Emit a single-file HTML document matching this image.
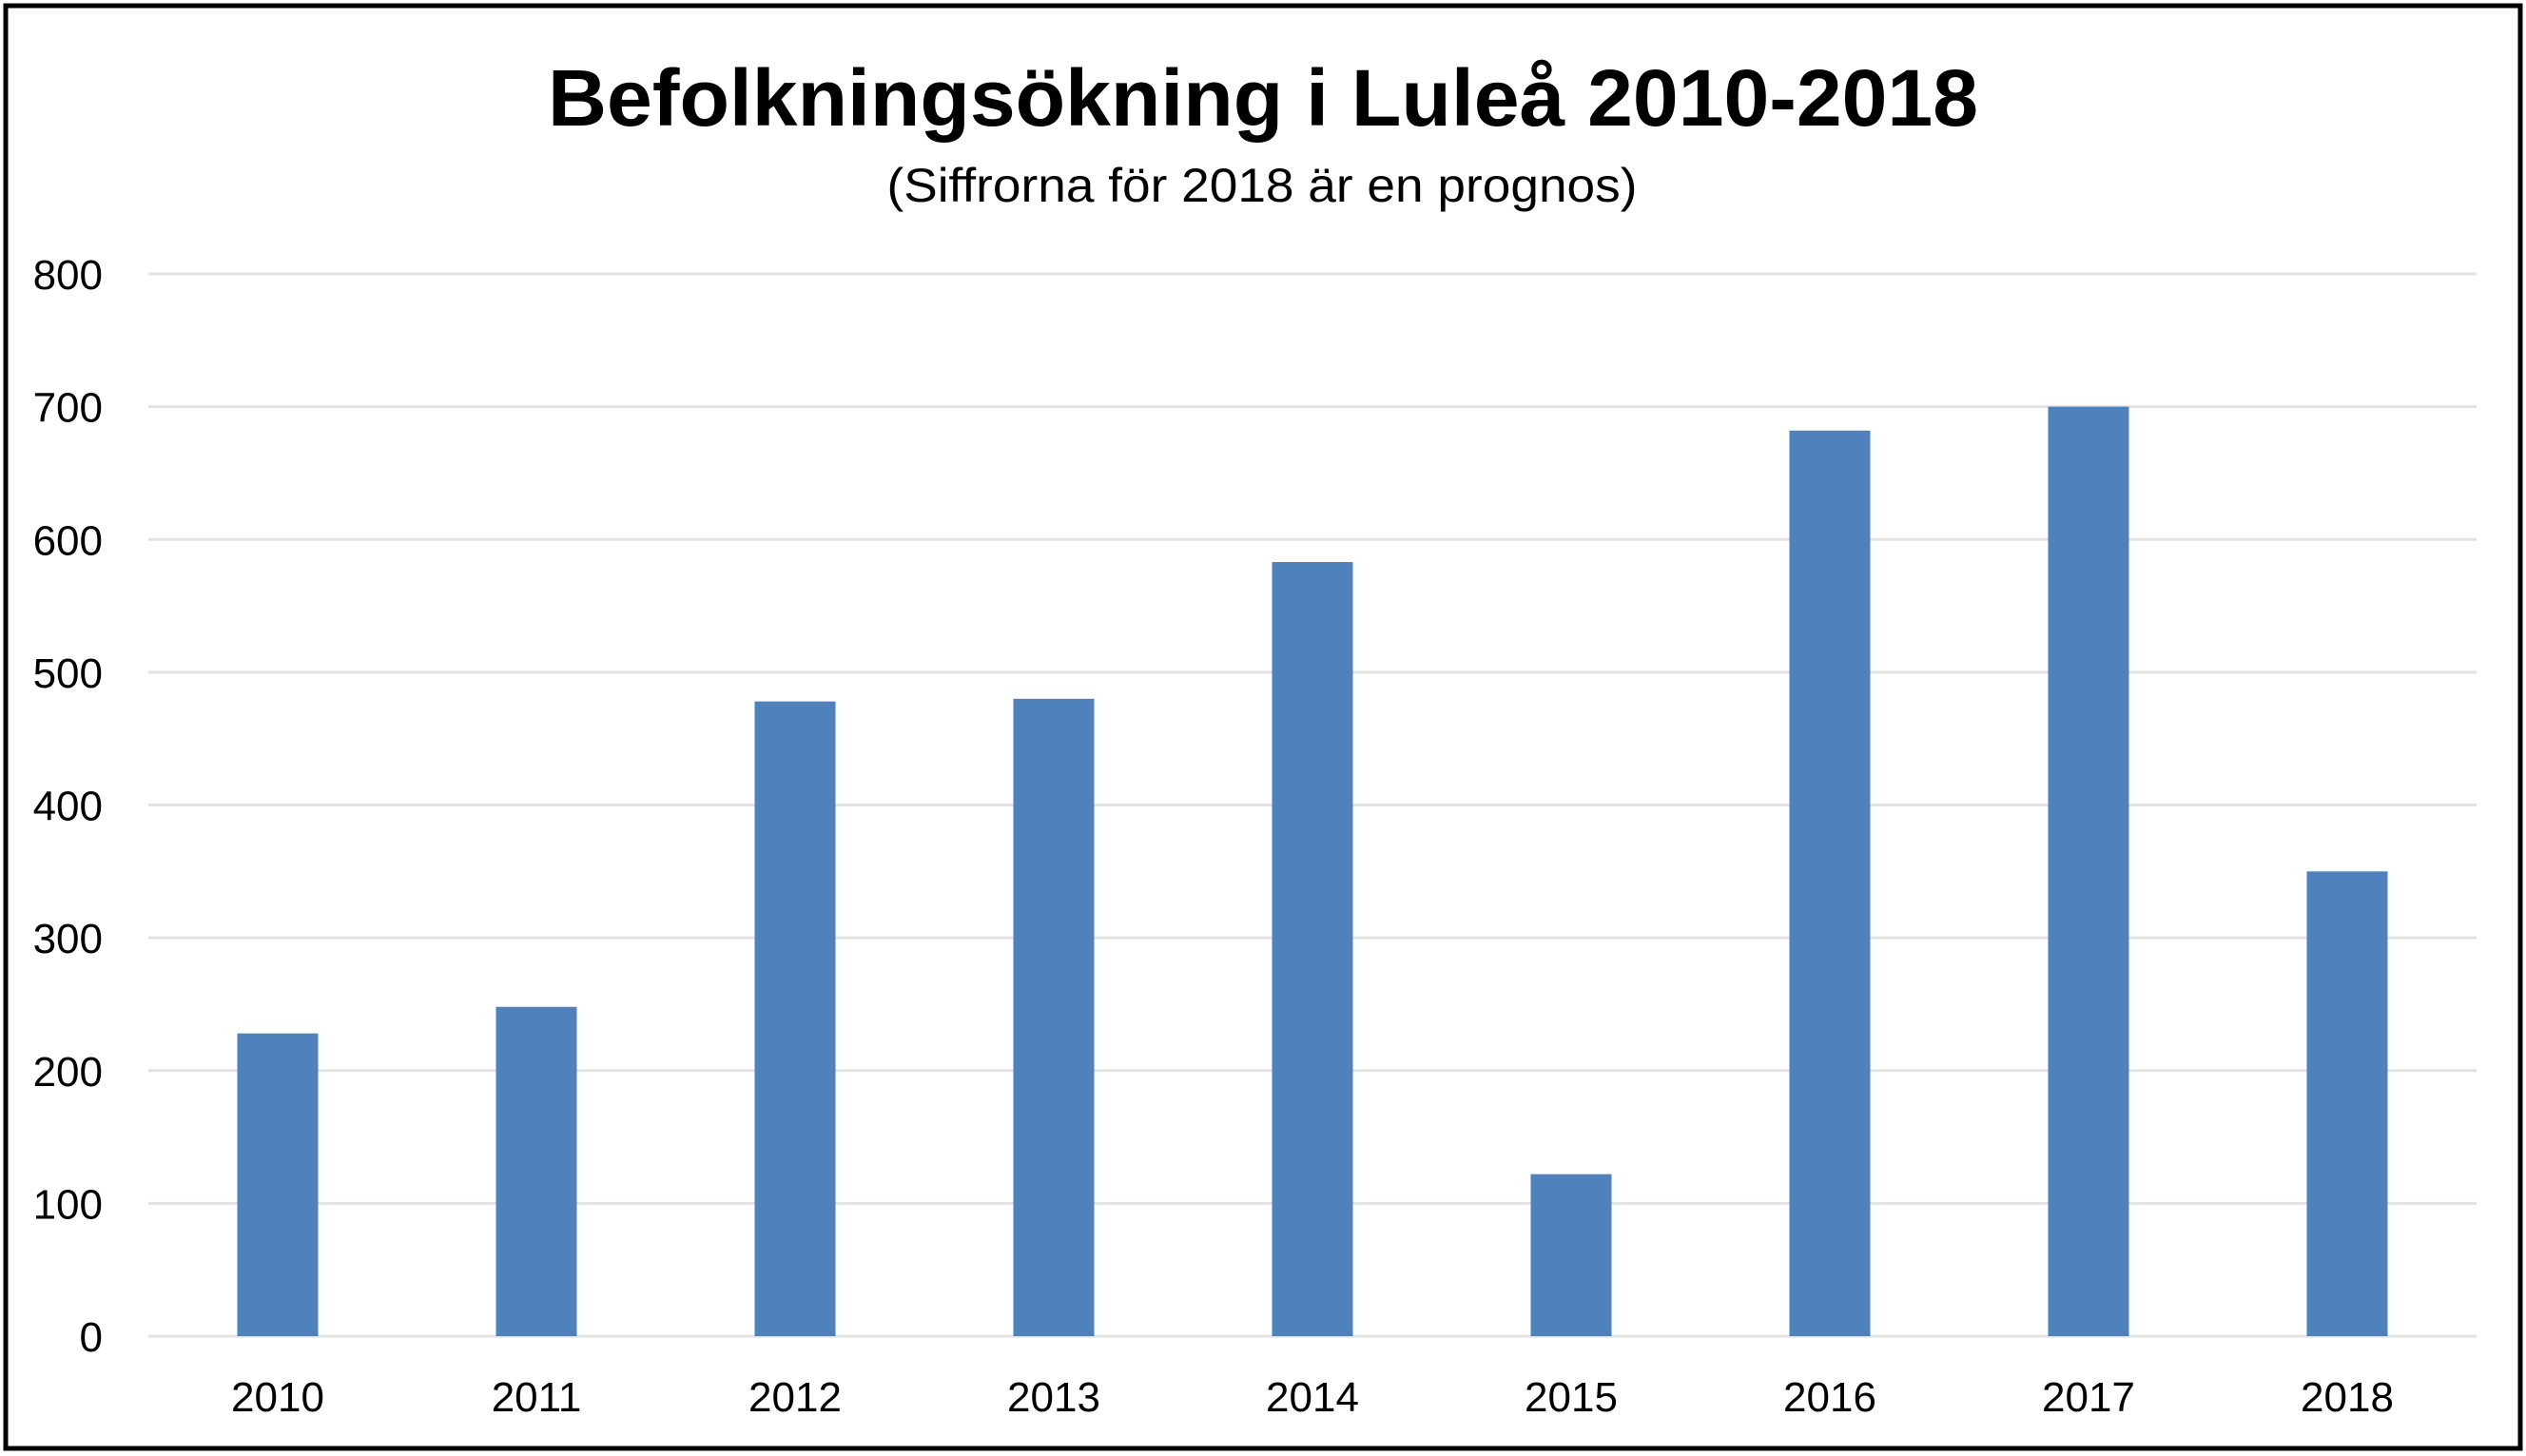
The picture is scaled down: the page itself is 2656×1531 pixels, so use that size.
<!DOCTYPE html>
<html><head><meta charset="utf-8"><style>
html,body{margin:0;padding:0;background:#fff;}
svg{display:block;font-family:"Liberation Sans",Carlito,sans-serif;}
</style></head><body>
<svg id="chart" width="2656" height="1531" viewBox="0 0 2656 1531">
<rect x="6" y="6" width="2644" height="1517" fill="#fff" stroke="#000" stroke-width="5"/>
<text x="1328" y="132" text-anchor="middle" font-size="84" font-weight="bold" textLength="1504" lengthAdjust="spacingAndGlyphs">Befolkningsökning i Luleå 2010-2018</text>
<text x="1327" y="212" text-anchor="middle" font-size="50" textLength="789" lengthAdjust="spacingAndGlyphs">(Siffrorna för 2018 är en prognos)</text>
<g id="grid"></g>
<g id="yaxis"></g>
<g id="bars"></g>
<g id="xaxis"></g>
</svg>
<script>
const categories = ["2010","2011","2012","2013","2014","2015","2016","2017","2018"];
const values = [228, 248, 478, 480, 583, 122, 682, 700, 350];
const yTicks = [0,100,200,300,400,500,600,700,800];

const NS = "http://www.w3.org/2000/svg";
const plotL = 156, plotR = 2604, plotTop = 288, plotBot = 1405, yMax = 800;
const y = v => plotBot - (v / yMax) * (plotBot - plotTop);
const band = (plotR - plotL) / categories.length;
const xc = i => plotL + band * (i + 0.5);
const barW = 85;

const grid = document.getElementById('grid');
const yaxis = document.getElementById('yaxis');
yTicks.forEach(t => {
  const l = document.createElementNS(NS, 'line');
  l.setAttribute('x1', plotL); l.setAttribute('x2', plotR);
  l.setAttribute('y1', y(t)); l.setAttribute('y2', y(t));
  l.setAttribute('stroke', '#e3e3e3'); l.setAttribute('stroke-width', '3');
  
  
  grid.appendChild(l);
  const tx = document.createElementNS(NS, 'text');
  tx.setAttribute('x', 108); tx.setAttribute('y', y(t) + 16);
  tx.setAttribute('text-anchor', 'end'); tx.setAttribute('font-size', '44');
  tx.textContent = t;
  
  
  yaxis.appendChild(tx);
});

const bars = document.getElementById('bars');
const xaxis = document.getElementById('xaxis');
categories.forEach((c, i) => {
  const r = document.createElementNS(NS, 'rect');
  r.setAttribute('x', xc(i) - barW / 2); r.setAttribute('width', barW);
  r.setAttribute('y', y(values[i])); r.setAttribute('height', plotBot - y(values[i]));
  r.setAttribute('fill', '#4f81bd');
  
  
  bars.appendChild(r);
  const tx = document.createElementNS(NS, 'text');
  tx.setAttribute('x', xc(i)); tx.setAttribute('y', 1484);
  tx.setAttribute('text-anchor', 'middle'); tx.setAttribute('font-size', '44');
  tx.textContent = c;
  
  
  xaxis.appendChild(tx);
});
</script>
</body></html>
